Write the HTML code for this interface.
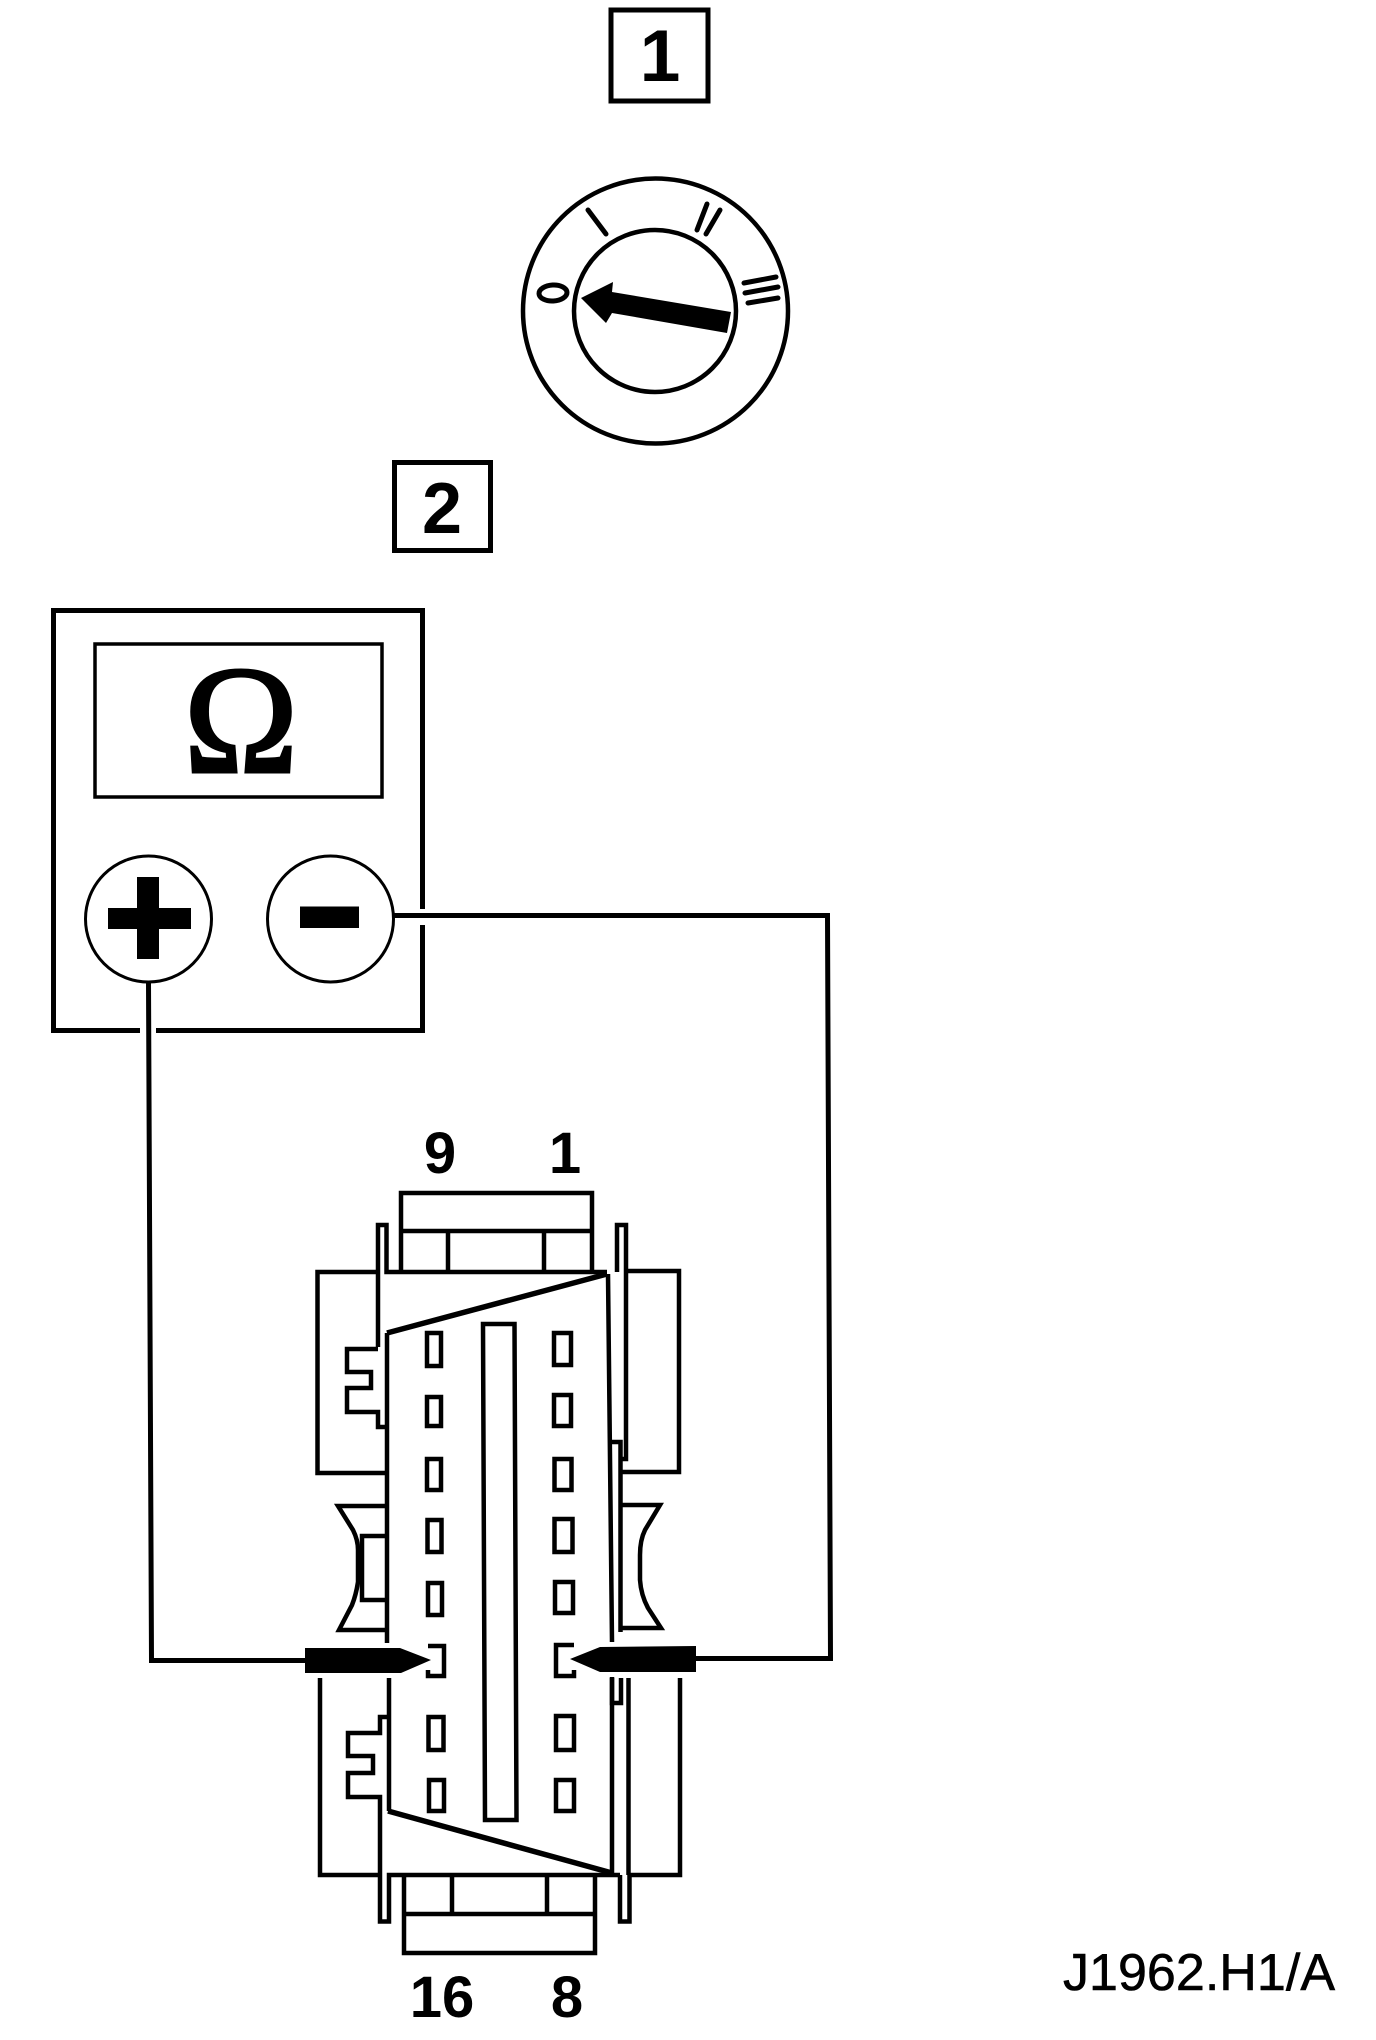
<!DOCTYPE html>
<html>
<head>
<meta charset="utf-8">
<style>
html,body{margin:0;padding:0;background:#fff;}
svg{display:block;}
text{fill:#000;font-family:"Liberation Sans",sans-serif;}
.b{font-weight:700;}
</style>
</head>
<body>
<svg width="1376" height="2040" viewBox="0 0 1376 2040" xmlns="http://www.w3.org/2000/svg">
<rect width="1376" height="2040" fill="#fff"/>
<g fill="none" stroke="#000" stroke-width="4.5" stroke-linejoin="miter">
  <!-- Box 1 -->
  <rect x="611" y="10" width="97" height="91" stroke-width="5"/>
  <!-- Box 2 -->
  <rect x="394.5" y="462.5" width="96" height="88" stroke-width="5"/>
  <!-- Key switch -->
  <circle cx="655.5" cy="311" r="132.5"/>
  <circle cx="655" cy="311" r="81"/>
  <g stroke-linecap="round" stroke-width="5">
    <path d="M588 210L606 234"/>
    <path d="M707 204L697 230"/>
    <path d="M720 210L706 234"/>
    <path d="M744 283L776 277"/>
    <path d="M745 293L778 287"/>
    <path d="M748 303L778 298"/>
  </g>
  <ellipse cx="553" cy="293" rx="14" ry="8" transform="rotate(-3 553 293)" stroke-width="5"/>
  <!-- Meter -->
  <path d="M140 1030.5H53.5V610.5H422.5V909M422.5 925V1030.5H156" stroke-width="5"/>
  <rect x="95" y="644" width="287" height="153" stroke-width="3.5"/>
  <circle cx="148.5" cy="919" r="63" stroke-width="3"/>
  <circle cx="330.5" cy="919" r="63" stroke-width="3"/>
  <!-- Wires -->
  <path d="M148.5 982L151.5 1660.5H306" stroke-width="5"/>
  <path d="M394 915.5H827.5L830.5 1658.5H696" stroke-width="5"/>

  <!-- Connector top box -->
  <path d="M401 1272V1193H592V1272M401 1231H592M448 1231V1272M544 1231V1272"/>
  <!-- left strip + upper left block -->
  <path d="M378 1347V1225H386.5V1272H607"/>
  <path d="M378 1272H317.5V1473H387"/>
  <path d="M378 1349H347V1372H371V1388H347V1412H378V1427H387"/>
  <!-- main body -->
  <path d="M387 1333V1643M389 1678V1811"/>
  <path d="M387 1333L607 1274" stroke-width="5.5"/>
  <path d="M388 1811L612 1873" stroke-width="5.5"/>
  <path d="M608 1274L612 1642M612 1677V1873"/>
  <!-- right strip + upper right block -->
  <path d="M617 1272V1225H626V1459H622"/>
  <path d="M612 1442H620.5V1632"/>
  <path d="M626 1271H679V1472H620"/>
  <!-- waist -->
  <path d="M620 1505H660L645 1530Q640 1540 640 1555V1580Q641 1595 648 1608L661 1628H620"/>
  <path d="M388 1506H338L353 1530Q358 1540 358 1550V1582Q356 1595 352 1605L339 1630H388"/>
  <path d="M388 1536H362V1600H388"/>
  <!-- center bar -->
  <path d="M483 1324H514.5L516.5 1820H485Z"/>
  <!-- left column -->
  <rect x="427" y="1333" width="14" height="33"/>
  <rect x="427" y="1397" width="14" height="29"/>
  <rect x="427" y="1459" width="14" height="31"/>
  <rect x="427.5" y="1520" width="14" height="32"/>
  <rect x="428" y="1583" width="14" height="32"/>
  <path d="M428 1646H444V1676H428V1670"/>
  <rect x="428.5" y="1717" width="15" height="33"/>
  <rect x="429" y="1780" width="15" height="31"/>
  <!-- right column -->
  <rect x="554" y="1333" width="17" height="32"/>
  <rect x="554" y="1395" width="17" height="31"/>
  <rect x="554.5" y="1459" width="17" height="31"/>
  <rect x="554.5" y="1519" width="18" height="33"/>
  <rect x="555" y="1582" width="18" height="31"/>
  <path d="M574 1645H556V1676H574V1670"/>
  <rect x="556" y="1716" width="18" height="34"/>
  <rect x="556" y="1780" width="18" height="31"/>
  <!-- lower left block -->
  <path d="M320 1678V1875H380"/>
  <path d="M388 1717H380V1733H348V1756H373V1773H348V1797H380V1921.5H389V1875H620"/>
  <!-- lower right -->
  <path d="M620 1875V1921.5H629.5V1875H680V1678M628.5 1678V1875"/>
  <path d="M612 1678V1703H621V1678"/>
  <!-- bottom box -->
  <path d="M404 1875V1953H595V1875M404 1914H595M452 1875V1914M547 1875V1914"/>
</g>
<g fill="#000" stroke="none">
  <!-- arrow -->
  <polygon points="581,298 613,282 612,292 731,312 727,333 612,313 606,323"/>
  <!-- plus -->
  <rect x="137" y="877" width="22" height="82"/>
  <rect x="108" y="908" width="83" height="21"/>
  <!-- minus -->
  <rect x="300" y="906.5" width="59" height="21.5"/>
  <!-- probes -->
  <polygon points="305,1648 400,1648 431,1660 401,1673 305,1673"/>
  <polygon points="570,1659 600,1647 696,1646 696,1672 600,1672"/>
</g>
<text class="b" x="660" y="81" font-size="73" text-anchor="middle">1</text>
<text class="b" x="442" y="533" font-size="72" text-anchor="middle">2</text>
<text x="241" y="772" font-size="154" text-anchor="middle" style="font-family:'Liberation Serif',serif" stroke="#000" stroke-width="3">Ω</text>
<text class="b" x="440" y="1173" font-size="58" text-anchor="middle">9</text>
<text class="b" x="565" y="1173" font-size="58" text-anchor="middle">1</text>
<text class="b" x="442" y="2017" font-size="58" text-anchor="middle">16</text>
<text class="b" x="567" y="2017" font-size="58" text-anchor="middle">8</text>
<text x="1063" y="1990" font-size="52" textLength="272" lengthAdjust="spacing" stroke="#000" stroke-width="0.6">J1962.H1/A</text>
</svg>
</body>
</html>
